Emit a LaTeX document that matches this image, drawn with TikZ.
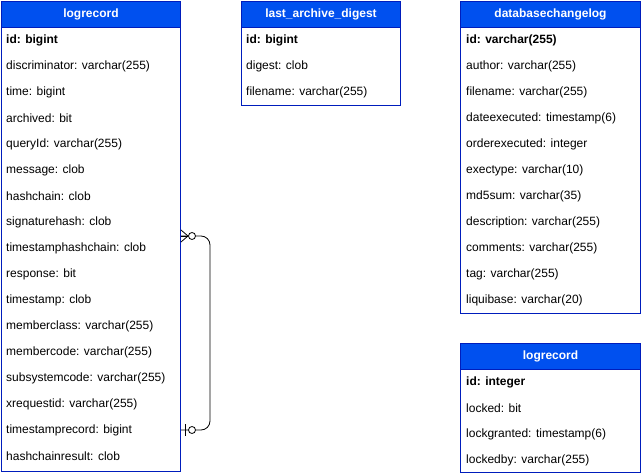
\documentclass[tikz,border=0pt]{standalone}
\usepackage{fontspec}
\setmainfont{Liberation Sans}
\definecolor{hdrfill}{HTML}{0050EF}
\definecolor{hdrline}{HTML}{001DBC}
\begin{document}
\begin{tikzpicture}[x=1pt,y=-1pt,
  hdr/.style={draw=hdrline, fill=hdrfill, text=white, font=\fontsize{12}{14}\selectfont\bfseries, anchor=north west, inner sep=0pt, minimum height=26pt, line width=1pt},
  tbody/.style={draw=hdrline, fill=white, anchor=north west, inner sep=0pt, line width=1pt},
  rowtext/.style={anchor=west, inner sep=0pt, font=\fontsize{12}{14}\selectfont},
  keytext/.style={rowtext, font=\fontsize{12}{14}\selectfont\bfseries},
  conn/.style={draw=black, line width=0.8pt}]
\useasboundingbox (0,0) rectangle (641,476);
\fill[white] (0,0) rectangle (641,476);

% Table 1
\node[tbody, minimum width=179pt, minimum height=444pt] (t1b) at (1,27) {};
\node[hdr, minimum width=179pt] (t1h) at (1,1) {logrecord};
\node[keytext] (t1r1) at (6,40) {id: bigint};
\foreach \t [count=\i from 2] in {discriminator: varchar(255), time: bigint, archived: bit, queryId: varchar(255), message: clob, hashchain: clob, signaturehash: clob, timestamphashchain: clob, response: bit, timestamp: clob, memberclass: varchar(255), membercode: varchar(255), subsystemcode: varchar(255), xrequestid: varchar(255), timestamprecord: bigint, hashchainresult: clob}
  \node[rowtext] (t1r\i) at (6,{40+26*(\i-1)}) {\t};

% Table 2
\node[tbody, minimum width=159pt, minimum height=78pt] (t2b) at (241,27) {};
\node[hdr, minimum width=159pt] (t2h) at (241,1) {last\_archive\_digest};
\node[keytext] (t2r1) at (246,40) {id: bigint};
\foreach \t [count=\i from 2] in {digest: clob, filename: varchar(255)}
  \node[rowtext] (t2r\i) at (246,{40+26*(\i-1)}) {\t};

% Table 3
\node[tbody, minimum width=180pt, minimum height=286pt] (t3b) at (460,27) {};
\node[hdr, minimum width=180pt] (t3h) at (460,1) {databasechangelog};
\node[keytext] (t3r1) at (466,40) {id: varchar(255)};
\foreach \t [count=\i from 2] in {author: varchar(255), filename: varchar(255), dateexecuted: timestamp(6), orderexecuted: integer, exectype: varchar(10), md5sum: varchar(35), description: varchar(255), comments: varchar(255), tag: varchar(255), liquibase: varchar(20)}
  \node[rowtext] (t3r\i) at (466,{40+26*(\i-1)}) {\t};

% Table 4
\node[tbody, minimum width=180pt, minimum height=103pt] (t4b) at (460,369) {};
\node[hdr, minimum width=180pt] (t4h) at (460,343) {logrecord};
\node[keytext] (t4r1) at (466,382) {id: integer};
\foreach \t [count=\i from 2] in {locked: bit, lockgranted: timestamp(6), lockedby: varchar(255)}
  \node[rowtext] (t4r\i) at (466,{382+26*(\i-1)}) {\t};

% Connector
\coordinate (ca) at (181,236);
\coordinate (cb) at (181,430);
\draw[conn, rounded corners=9pt] (ca) -- (210,236) -- (210,430) -- (cb);
% zero-to-many end
\draw[conn] (ca) -- (188,236);
\draw[conn] (181,230) -- (188,236) -- (181,242);
\draw[conn, fill=white] (192,236) circle (3.5pt);
% zero-to-one end
\draw[conn] (185,424) -- (185,436);
\draw[conn, fill=white] (192,430) circle (3.5pt);
\end{tikzpicture}
\end{document}
